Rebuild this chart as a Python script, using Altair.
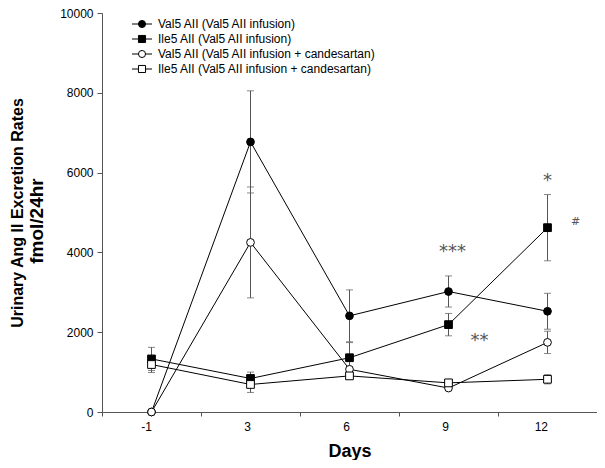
import altair as alt
import pandas as pd

days = ["-1", "3", "6", "9", "12"]
series_names = [
    "Val5 AII (Val5 AII infusion)",
    "Ile5 AII (Val5 AII infusion)",
    "Val5 AII (Val5 AII infusion + candesartan)",
    "Ile5 AII (Val5 AII infusion + candesartan)",
]
val5 = [0, 6770, 2410, 3020, 2525]
val5_err = [0, 1280, 650, 390, 450]
ile5 = [1330, 840, 1360, 2190, 4620]
ile5_err = [290, 160, 380, 280, 830]
val5_c = [0, 4250, 1070, 600, 1745]
val5_c_err = [0, 1390, 60, 50, 280]
ile5_c = [1190, 690, 905, 730, 820]
ile5_c_err = [200, 200, 50, 80, 115]

shapes = ["circle", "square", "circle", "square"]
fills = ["black", "black", "white", "white"]

annot_text = ["***", "**", "*", "#"]
annot_day = ["9", "9", "12", "12"]
annot_y = [4000, 1780, 5800, 4750]
annot_dx = [4, 31, 0, 28]
annot_size = [18, 18, 18, 11]

yticks = [0, 2000, 4000, 6000, 8000, 10000]

rows = []
for name, vals, errs in zip(series_names, [val5, ile5, val5_c, ile5_c],
                            [val5_err, ile5_err, val5_c_err, ile5_c_err]):
    for d, v, e in zip(days, vals, errs):
        rows.append({"series": name, "day": d, "value": v, "lo": v - e, "hi": v + e, "err": e})
df = pd.DataFrame(rows)
err_df = df[df["err"] > 0]

leg = pd.DataFrame({"series": series_names, "row": list(range(len(series_names)))})

FONT = "Liberation Sans"

xenc = alt.X("day:O", sort=days,
             scale=alt.Scale(type="band", domain=days, paddingInner=0, paddingOuter=0),
             axis=alt.Axis(title="Days", tickBand="extent", labelAngle=0, labelFont=FONT,
                           labelFontSize=12, labelColor="black", labelPadding=10,
                           tickSize=4, tickColor="#555", domainColor="#555",
                           titleFont=FONT, titleFontSize=18, titleFontWeight="bold",
                           titleColor="black", titlePadding=10))
yscale = alt.Scale(domain=[0, 10000], nice=False)
yenc = alt.Y("value:Q", scale=yscale,
             axis=alt.Axis(values=yticks, format="d", grid=False, labelFont=FONT,
                           labelFontSize=12, labelColor="black", tickSize=5,
                           tickColor="#555", domainColor="#555", labelPadding=4,
                           title="Urinary Ang II Excretion Rates",
                           titleFont=FONT, titleFontSize=16, titleFontWeight="bold",
                           titleColor="black", titlePadding=34))

shape_scale = alt.Scale(domain=series_names, range=shapes)
fill_scale = alt.Scale(domain=series_names, range=fills)

errs_rule = alt.Chart(err_df).mark_rule(color="#555", strokeWidth=1).encode(
    x=alt.X("day:O", sort=days), y=alt.Y("lo:Q", scale=yscale), y2="hi:Q")
errs_top = alt.Chart(err_df).mark_tick(color="#555", size=7, thickness=1).encode(
    x=alt.X("day:O", sort=days), y=alt.Y("hi:Q", scale=yscale))
errs_bot = alt.Chart(err_df).mark_tick(color="#555", size=7, thickness=1).encode(
    x=alt.X("day:O", sort=days), y=alt.Y("lo:Q", scale=yscale))

lines = alt.Chart(df).mark_line(color="black", strokeWidth=1).encode(
    x=xenc, y=yenc, detail="series:N")

points = alt.Chart(df).mark_point(size=60, opacity=1, stroke="black", strokeWidth=1).encode(
    x=alt.X("day:O", sort=days), y=alt.Y("value:Q", scale=yscale),
    shape=alt.Shape("series:N", scale=shape_scale, legend=None),
    fill=alt.Fill("series:N", scale=fill_scale, legend=None))

annot_layers = []
for t, d, yv, dxv, sz in zip(annot_text, annot_day, annot_y, annot_dx, annot_size):
    a = pd.DataFrame({"text": [t], "day": [d], "y": [yv]})
    annot_layers.append(
        alt.Chart(a).mark_text(font="DejaVu Sans", color="#555", baseline="middle",
                               dx=dxv, fontSize=sz).encode(
            x=alt.X("day:O", sort=days), y=alt.Y("y:Q", scale=yscale), text="text:N"))

main = alt.layer(errs_rule, errs_top, errs_bot, lines, points, *annot_layers)

unit_label = alt.Chart(pd.DataFrame({"t": ["fmol/24hr"]})).mark_text(
    angle=270, font=FONT, fontSize=19, fontWeight="bold", color="black",
    align="center", baseline="middle").encode(
    x=alt.value(-65), y=alt.value(208), text="t:N")

leg_y = alt.Y("row:Q", scale=alt.Scale(domain=[0, 3], range=[11, 56]), axis=None)
leg_rule = alt.Chart(leg).mark_rule(color="black", strokeWidth=1).encode(
    x=alt.value(30), x2=alt.value(50), y=leg_y)
leg_pts = alt.Chart(leg).mark_point(size=50, opacity=1, stroke="black", strokeWidth=1).encode(
    x=alt.value(40), y=leg_y,
    shape=alt.Shape("series:N", scale=shape_scale, legend=None),
    fill=alt.Fill("series:N", scale=fill_scale, legend=None))
leg_txt = alt.Chart(leg).mark_text(align="left", baseline="middle", font=FONT,
                                   fontSize=12, color="black").encode(
    x=alt.value(56), y=leg_y, text="series:N")
legend = alt.layer(leg_rule, leg_pts, leg_txt, unit_label)

chart = alt.layer(main, legend).resolve_scale(y="independent").properties(
    width=495, height=399,
    autosize=alt.AutoSizeParams(type="none"),
    padding={"left": 94, "top": 5, "right": 0, "bottom": 48},
    background="white",
).configure_view(stroke=None)

chart.save("out.html", embed_options={"renderer": "svg", "actions": False})
